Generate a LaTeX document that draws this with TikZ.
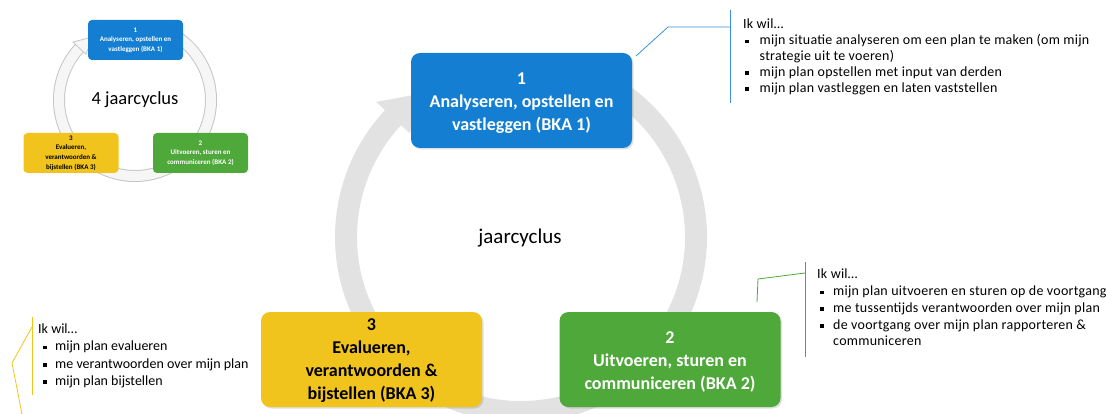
\documentclass[tikz,border=0pt]{standalone}
\usepackage{fontspec}
\setmainfont{Carlito}
\newfontfamily\spacedA[LetterSpace=1.7]{Carlito}
\newfontfamily\spacedB[LetterSpace=1.8]{Carlito}
\usetikzlibrary{shadows}
\definecolor{bblue}{RGB}{20,127,210}
\definecolor{bgreen}{RGB}{78,168,58}
\definecolor{byellow}{RGB}{240,196,28}
\definecolor{ringgray}{RGB}{226,226,226}
\newcommand{\sqbul}{\rule[0.11em]{0.25em}{0.25em}}
\newcommand{\tallfirst}{\rule{0pt}{17pt}}
\begin{document}
\begin{tikzpicture}[x=1pt,y=1pt,
  stage/.style={rounded corners=9pt, minimum width=221pt, minimum height=95pt, inner sep=2pt,
    align=center, font=\fontsize{18}{23}\selectfont\bfseries,
    drop shadow={opacity=0.25, shadow xshift=1.5pt, shadow yshift=-1.5pt}},
  mini/.style={rounded corners=4pt, minimum width=95pt, minimum height=40pt, inner sep=1pt,
    align=center, font=\fontsize{7}{9.6}\selectfont\bfseries},
  callout/.style={anchor=base west, inner sep=0pt, align=left},
  lead/.style={line width=0.8pt}
]
\useasboundingbox (0,0) rectangle (1106,-414);

% ---------- thumbnail ----------
\coordinate (tc) at (135,-100);
\draw[gray!45, line width=12pt] ([shift={(60:76)}]tc) arc[start angle=60, end angle=-223, radius=76];
\draw[gray!7, line width=10pt] ([shift={(60:76)}]tc) arc[start angle=60, end angle=-223, radius=76];
\filldraw[draw=gray!45, fill=gray!7, line width=0.8pt] ([shift={(137:67)}]tc) -- ([shift={(137:85)}]tc) -- ([shift={(124:76)}]tc) -- cycle;
\node[mini, fill=bblue, text=white] (m1) at (135.5,-40) {1\\Analyseren, opstellen en\\vastleggen (BKA 1)};
\node[mini, fill=bgreen, text=white] (m2) at (200.5,-153) {2\\Uitvoeren, sturen en\\communiceren (BKA 2)};
\node[mini, fill=byellow, text=black] (m3) at (71,-153) {3\\Evalueren,\\verantwoorden \&\\bijstellen (BKA 3)};
\node[font=\fontsize{18.5}{22}\selectfont] (mtitle) at (135,-100) {4 jaarcyclus};

% ---------- main ring ----------
\coordinate (rc) at (521,-237);
\draw[ringgray, line width=22pt] ([shift={(60:175)}]rc) arc[start angle=60, end angle=-223, radius=175];
\fill[ringgray] ([shift={(137:152)}]rc) -- ([shift={(137:198)}]rc) -- ([shift={(125:175)}]rc) -- cycle;

\node[font=\fontsize{21}{25}\selectfont] (title) at (520,-238) {jaarcyclus};

% ---------- stages ----------
\node[stage, fill=bblue, text=white] (b1) at (521.5,-100.5) {\tallfirst 1\\Analyseren, opstellen en\\vastleggen (BKA 1)};
\node[stage, fill=bgreen, text=white] (b2) at (670,-359.5) {\tallfirst 2\\Uitvoeren, sturen en\\communiceren (BKA 2)};
\node[stage, fill=byellow, text=black] (b3) at (371.5,-359.5) {\rule{0pt}{15pt}3\\Evalueren,\\verantwoorden \&\\bijstellen (BKA 3)};

% ---------- callout 1 ----------
\coordinate (k1top) at (730,-10);
\coordinate (k1bot) at (730,-103);
\coordinate (k1s) at (636,-56);
\coordinate (k1m) at (668,-27);
\coordinate (k1e) at (730,-27);
\draw[lead, bblue!85] (k1top) -- (k1bot);
\draw[lead, bblue!85] (k1s) -- (k1m) -- (k1e);
\node[callout, font=\spacedA\fontsize{14}{15.8}\selectfont] (t1) at (743,-29) {%
\begin{tabular}[t]{@{\hspace{2pt}}c@{\hspace{11pt}}l@{}}
\multicolumn{2}{@{}l@{}}{Ik wil…}\\
\sqbul & mijn situatie analyseren om een plan te maken (om mijn\\
 & strategie uit te voeren)\\
\sqbul & mijn plan opstellen met input van derden\\
\sqbul & mijn plan vastleggen en laten vaststellen
\end{tabular}};

% ---------- callout 2 ----------
\coordinate (k2top) at (805,-262);
\coordinate (k2bot) at (805,-357);
\coordinate (k2s) at (757,-302);
\coordinate (k2m) at (758,-279);
\coordinate (k2e) at (805,-273);
\draw[lead, bgreen] (k2top) -- (k2bot);
\draw[lead, bgreen] (k2s) -- (k2m) -- (k2e);
\node[callout, font=\spacedB\fontsize{14}{16.7}\selectfont] (t2) at (817,-279) {%
\begin{tabular}[t]{@{\hspace{3pt}}c@{\hspace{9.5pt}}l@{}}
\multicolumn{2}{@{}l@{}}{Ik wil…}\\
\sqbul & mijn plan uitvoeren en sturen op de voortgang\\
\sqbul & me tussentijds verantwoorden over mijn plan\\
\sqbul & de voortgang over mijn plan rapporteren \&\\
 & communiceren
\end{tabular}};

% ---------- callout 3 ----------
\coordinate (k3top) at (32,-317);
\coordinate (k3bot) at (32,-395);
\coordinate (k3s) at (22,-414);
\coordinate (k3m) at (12,-363);
\coordinate (k3e) at (32,-327);
\draw[lead, byellow] (k3top) -- (k3bot);
\draw[lead, byellow] (k3s) -- (k3m) -- (k3e);
\node[callout, font=\fontsize{14}{17.3}\selectfont] (t3) at (38,-333.5) {%
\begin{tabular}[t]{@{\hspace{5pt}}c@{\hspace{8.5pt}}l@{}}
\multicolumn{2}{@{}l@{}}{Ik wil…}\\
\sqbul & mijn plan evalueren\\
\sqbul & me verantwoorden over mijn plan\\
\sqbul & mijn plan bijstellen
\end{tabular}};
\end{tikzpicture}
\end{document}
